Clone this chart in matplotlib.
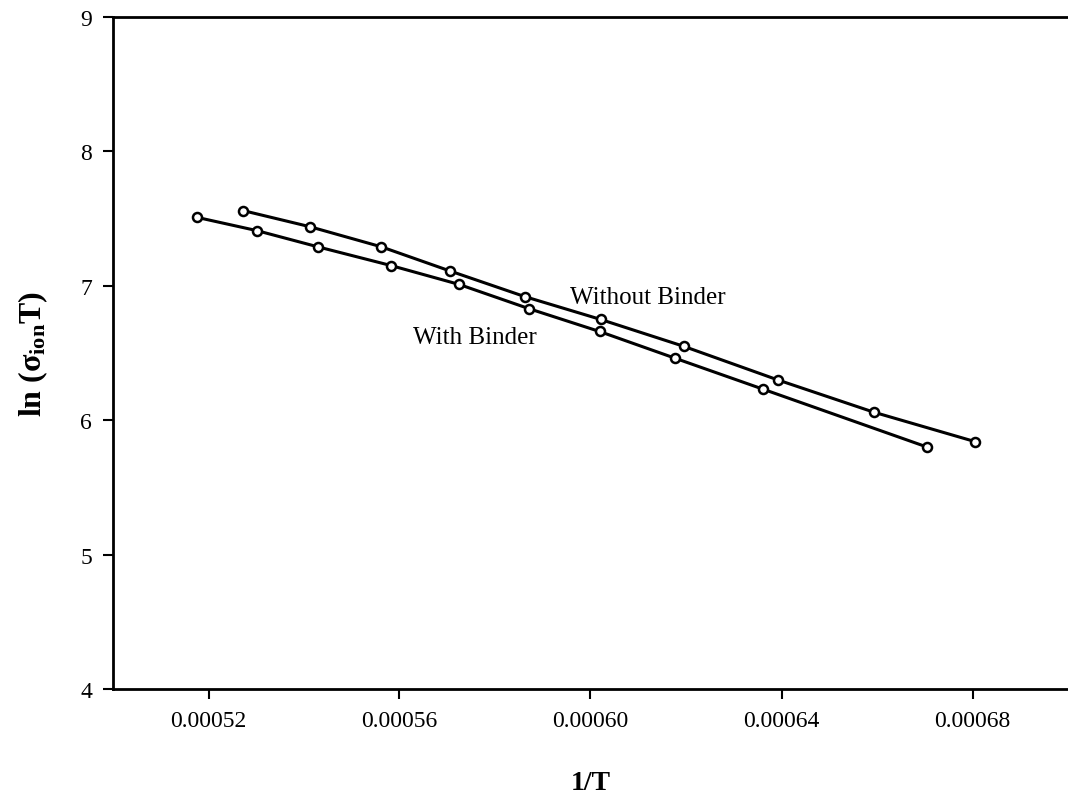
import numpy as np
import matplotlib
matplotlib.use("Agg")
import matplotlib.pyplot as plt

# === DATA: Arrhenius-type plot, ln(sigma*T) vs 1/T ===
inv_t_with = [0.0005175, 0.0005302, 0.0005429, 0.0005583, 0.0005725,
              0.0005871, 0.0006019, 0.0006178, 0.0006362, 0.0006705]
ln_sig_with = [7.51, 7.41, 7.29, 7.15, 7.01, 6.83, 6.66, 6.46, 6.23, 5.80]

inv_t_without = [0.0005272, 0.0005412, 0.0005562, 0.0005706, 0.0005862,
                 0.0006021, 0.0006195, 0.0006392, 0.0006593, 0.0006806]
ln_sig_without = [7.56, 7.44, 7.29, 7.11, 6.92, 6.75, 6.55, 6.30, 6.06, 5.84]

x_ticks = [0.00052, 0.00056, 0.00060, 0.00064, 0.00068]
x_tick_labels = ["0.00052", "0.00056", "0.00060", "0.00064", "0.00068"]
y_ticks = [4, 5, 6, 7, 8, 9]

# === STYLE ===
plt.rcParams["font.family"] = ["Liberation Serif", "DejaVu Serif"]
plt.rcParams["mathtext.fontset"] = "custom"
plt.rcParams["mathtext.rm"] = "Liberation Serif:bold"
plt.rcParams["mathtext.it"] = "Liberation Serif:bold"
plt.rcParams["mathtext.bf"] = "Liberation Serif:bold"

W, H = 1068, 803
fig = plt.figure(figsize=(W / 100, H / 100), dpi=100)
ax = fig.add_axes([113 / W, 1 - 690 / H, 1 - 113 / W, (690 - 18) / H])

line_kw = dict(color="black", lw=2.2, marker="o", markersize=6.5,
               markerfacecolor="white", markeredgecolor="black",
               markeredgewidth=1.8)
ax.plot(inv_t_without, ln_sig_without, **line_kw)
ax.plot(inv_t_with, ln_sig_with, **line_kw)

ax.text(0.0005957, 6.92, "Without Binder", fontsize=18, ha="left", va="center")
ax.text(0.0005628, 6.62, "With Binder", fontsize=18, ha="left", va="center")

ax.set_xlim(0.0005, 0.0007)
ax.set_ylim(4, 9)
ax.set_xticks(x_ticks)
ax.set_xticklabels(x_tick_labels)
ax.set_yticks(y_ticks)
ax.tick_params(direction="out", length=7, width=1.5, labelsize=17, pad=8)

for side in ["left", "bottom", "top"]:
    ax.spines[side].set_linewidth(2.0)
ax.spines["right"].set_visible(False)

ax.set_xlabel("1/T", fontsize=20, fontweight="bold", labelpad=28)
ax.set_ylabel(r"ln $(\sigma_{\mathrm{ion}}\mathrm{T})$", fontsize=23,
              fontweight="bold", labelpad=22)

fig.savefig("out.png", dpi=100)
